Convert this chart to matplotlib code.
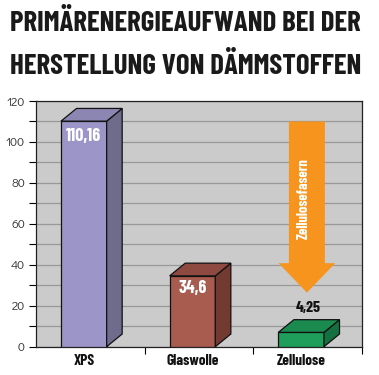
import matplotlib
matplotlib.use("Agg")
import matplotlib.pyplot as plt
from matplotlib.patches import Polygon, FancyArrow
from matplotlib import font_manager as fm

# ---- data ----
categories = ["XPS", "Glaswolle", "Zellulose"]
values = [110.16, 34.6, 7.0]          # drawn bar heights as seen in picture
value_labels = ["110,16", "34,6", "4,25"]
title_lines = ["PRIMÄRENERGIEAUFWAND BEI DER", "HERSTELLUNG VON DÄMMSTOFFEN"]
arrow_label = "Zellulosefasern"
y_ticks = [0, 20, 40, 60, 80, 100, 120]

front_colors = ["#9C96C8", "#A85B4F", "#1F9D5B"]
top_colors = ["#8B87B2", "#8E4A40", "#1A8A4F"]
side_colors = ["#6F6B8C", "#733A32", "#14703F"]

def pick(names):
    avail = {f.name for f in fm.fontManager.ttflist}
    for n in names:
        if n in avail:
            return n
    return "DejaVu Sans"

narrow = pick(["Barlow Condensed", "Fira Sans Condensed", "Asap Condensed", "DejaVu Sans"])
light = pick(["Didact Gothic", "Questrial", "URW Gothic", "Poppins", "Open Sans", "DejaVu Sans"])

W, H = 379, 375
fig = plt.figure(figsize=(W / 100, H / 100), dpi=100)
fig.patch.set_facecolor("white")
ax = fig.add_axes([36 / W, 1 - 346.7 / H, (362 - 36) / W, (346.7 - 101) / H])
ax.set_facecolor("#CBCBCB")
ax.set_xlim(-0.5, 2.5)
ax.set_ylim(0, 120)

# gridlines
ax.set_yticks(y_ticks)
ax.set_yticks(range(10, 120, 20), minor=True)
ax.yaxis.grid(True, which="both", color="#999999", linewidth=0.9)
ax.set_axisbelow(True)
ax.tick_params(axis="y", which="both", direction="out", length=5, width=0.8,
               labelsize=9, colors="black", labelcolor="#333333", pad=3)
for lab in ax.get_yticklabels():
    lab.set_fontfamily(light)

ax.set_xticks([0.5, 1.5, 2.5])
ax.set_xticklabels([])
ax.tick_params(axis="x", direction="out", length=5, width=0.8)
for i, c in enumerate(categories):
    ax.text(i - 0.06, -3.4, c, ha="center", va="top", fontsize=11,
            fontweight="bold", family=narrow, color="#111111")

for s in ax.spines.values():
    s.set_linewidth(0.9)
    s.set_color("#222222")

# 3D bars
bw = 0.42
off = -0.27
dx, dy = 0.143, 6.2
for i, v in enumerate(values):
    x0 = i + off
    x1 = x0 + bw
    ax.bar(x0, v, width=bw, align="edge", color=front_colors[i],
           edgecolor="#111111", linewidth=0.9, zorder=3)
    top = Polygon([(x0, v), (x1, v), (x1 + dx, v + dy), (x0 + dx, v + dy)],
                  closed=True, facecolor=top_colors[i], edgecolor="#111111",
                  linewidth=0.9, zorder=3)
    side = Polygon([(x1, 0), (x1 + dx, dy), (x1 + dx, v + dy), (x1, v)],
                   closed=True, facecolor=side_colors[i], edgecolor="#111111",
                   linewidth=0.9, zorder=3)
    ax.add_patch(side)
    ax.add_patch(top)

# value labels
ax.text(0 + off + bw / 2, values[0] - 7.5, value_labels[0], ha="center",
        va="center", color="white", fontsize=13, fontweight="bold", family=narrow, zorder=5)
ax.text(1 + off + bw / 2, values[1] - 6.0, value_labels[1], ha="center",
        va="center", color="white", fontsize=13, fontweight="bold", family=narrow, zorder=5)
ax.text(2.005, 18.8, value_labels[2], ha="center", va="center", color="#111111",
        fontsize=11.5, fontweight="bold", family=narrow, zorder=5)

# orange arrow
arr = FancyArrow(1.993, 110, 0, -83.6, width=0.331, head_width=0.521,
                 head_length=14.4, length_includes_head=True,
                 facecolor="#F7941E", edgecolor="none", zorder=4)
ax.add_patch(arr)
ax.text(1.966, 72.5, arrow_label, rotation=90, ha="center", va="center",
        color="white", fontsize=10.5, fontweight="bold", family=narrow, zorder=5)

# title, fitted to width
fig.canvas.draw()
r = fig.canvas.get_renderer()
target_w = 352
for line, base_y in zip(title_lines, [31, 74]):
    t = fig.text(10 / W, 1 - base_y / H, line, ha="left", va="baseline",
                 fontsize=20, fontweight="bold", family=narrow, color="#1a1a1a")
    w = t.get_window_extent(renderer=r).width
    t.set_fontsize(20 * target_w / w)

fig.savefig("out.png", dpi=100, facecolor="white")
